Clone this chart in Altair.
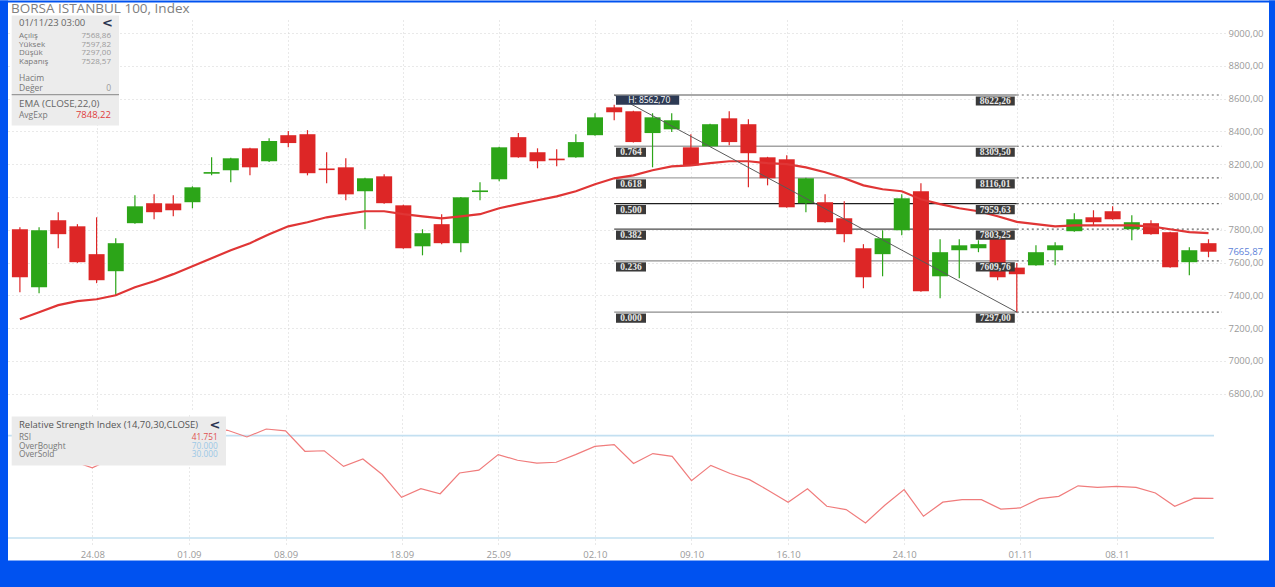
import altair as alt
import pandas as pd

# ---------------- data ----------------
tick_idx = [4, 9, 14, 20, 25, 30, 35, 40, 46, 52, 57]
tick_lbl = ["24.08", "01.09", "08.09", "18.09", "25.09", "02.10", "09.10", "16.10", "24.10", "01.11", "08.11"]

opens = [7803, 7449, 7858, 7821, 7651, 7547, 7840, 7962, 7960, 7968,
         8142, 8163, 8297, 8218, 8377, 8383, 8174, 8181, 8035, 8126,
         7949, 7699, 7834, 7718, 8030, 8108, 8365, 8273, 8234, 8242,
         8377, 8547, 8523, 8390, 8413, 8303, 8309, 8480, 8444, 8242,
         8230, 7962, 7968, 7870, 7687, 7651, 7797, 8035, 7516, 7675,
         7687, 7790, 7568.86, 7583, 7675, 7791, 7876, 7913, 7803, 7840,
         7785, 7602, 7718]
highs = [7815, 7815, 7907, 7834, 7876, 7748, 8010, 8017, 8010, 8065,
         8242, 8240, 8300, 8359, 8402, 8408, 8273, 8236, 8117, 8139,
         7952, 7803, 7895, 8000, 8090, 8306, 8390, 8297, 8291, 8383,
         8511, 8562.70, 8526, 8511, 8511, 8383, 8447, 8523, 8474, 8245,
         8254, 8117, 8017, 7974, 7712, 7797, 8017, 8084, 7742, 7742,
         7736, 7795, 7597.82, 7705, 7724, 7901, 7919, 7943, 7888, 7858,
         7788, 7693, 7742]
lows = [7419, 7413, 7687, 7598, 7474, 7400, 7836, 7864, 7882, 7931,
        8132, 8090, 8132, 8214, 8303, 8132, 8084, 7980, 7803, 7958,
        7684, 7644, 7712, 7663, 7980, 8096, 8240, 8175, 8187, 8240,
        8374, 8468, 8332, 8181, 8396, 8190, 8306, 8316, 8059, 8071,
        7934, 7907, 7843, 7724, 7443, 7516, 7766, 7422, 7382, 7504,
        7663, 7492, 7297.00, 7580, 7583, 7788, 7827, 7861, 7736, 7770,
        7568, 7522, 7632]
closes = [7510, 7797, 7773, 7602, 7492, 7718, 7943, 7907, 7919, 8059,
          8152, 8236, 8181, 8341, 8329, 8145, 8164, 8016, 8114, 7962,
          7687, 7779, 7718, 7998, 8040, 8303, 8242, 8218, 8224, 8335,
          8486, 8517, 8335, 8486, 8468, 8193, 8444, 8335, 8267, 8114,
          7937, 8114, 7846, 7773, 7510, 7748, 7992, 7425, 7663, 7705,
          7712, 7510, 7528.57, 7663, 7705, 7864, 7846, 7864, 7846, 7773,
          7571, 7675, 7665.87]
ema22 = [7254, 7297, 7340, 7364, 7376, 7400, 7449, 7486, 7529, 7577,
         7626, 7675, 7718, 7773, 7821, 7846, 7876, 7895, 7913, 7913,
         7895, 7882, 7870, 7882, 7895, 7931, 7956, 7980, 8004, 8035,
         8078, 8114, 8132, 8163, 8187, 8193, 8206, 8218, 8218, 8206,
         8200, 8181, 8151, 8114, 8071, 8047, 8035, 7986, 7956, 7931,
         7913, 7882, 7848.22, 7834, 7821, 7827, 7827, 7827, 7827, 7821,
         7803, 7785, 7779]
rsi14 = [62, 61, 62, 60, 57.4, 61, 66, 66, 65, 68,
         73, 72.1, 69.5, 72.6, 71.9, 63.9, 64.1, 58.0, 60.9, 54.8,
         45.9, 49.3, 47.3, 55.4, 56.5, 62.6, 60.4, 59.3, 59.6, 62.6,
         65.8, 66.5, 59.1, 63.0, 61.9, 52.4, 58.4, 55.2, 52.8, 48.5,
         44.0, 49.2, 42.4, 41.1, 35.9, 42.8, 48.9, 38.5, 44.0, 45.0,
         45.0, 41.3, 41.751, 45.4, 46.3, 50.4, 49.8, 50.2, 49.8, 47.6,
         42.4, 45.6, 45.5]
fib_ratio = [1.0, 0.764, 0.618, 0.5, 0.382, 0.236, 0.0]
fib_price = [8622.26, 8309.50, 8116.01, 7959.63, 7803.25, 7609.76, 7297.00]
fib_from, fib_to = 31, 52
rsi_levels = [70, 30]
price_ticks = list(range(6800, 9001, 200))
sel = 52  # candle shown in the info box

# ---------------- styles ----------------
W, H1, H2 = 1217, 390, 130
RED, GREEN = "#dd2626", "#2ca518"
BLUE = "#0052f0"
FONT = "Open Sans"


def cfmt(v, d=2):
    return f"{v:.{d}f}".replace(".", ",")


idx = list(range(len(closes)))
candles = pd.DataFrame({"idx": idx, "open": opens, "high": highs, "low": lows, "close": closes})
candles["dir"] = ["up" if c >= o else "down" for o, c in zip(opens, closes)]
ema_df = pd.DataFrame({"idx": idx, "ema": ema22})
rsi_df = pd.DataFrame({"idx": idx, "rsi": rsi14})
fib = pd.DataFrame({"ratio": fib_ratio, "price": fib_price})
fib["idx"] = fib_from
fib["idx_end"] = fib_to
fib["rlabel"] = [f"{r:.3f}" for r in fib_ratio]
fib["plabel"] = [cfmt(p) for p in fib_price]
diag = pd.DataFrame({"idx": [fib_from, fib_to], "price": [fib_price[0], fib_price[-1]]})
last = candles.tail(1).copy()
last["lbl"] = [cfmt(v) for v in last["close"]]
one = pd.DataFrame({"k": [0]})

xscale = alt.Scale(domain=[-0.36, 62.6], nice=False, zero=False)
yscale = alt.Scale(domain=[6700, 9080], nice=False, zero=False)
rscale = alt.Scale(domain=[27.26, 78.08], nice=False, zero=False)

x_axis_main = alt.Axis(values=tick_idx, labels=False, ticks=False, domain=False, grid=True,
                       gridColor="#d2d2d2", gridDash=[1, 3], title=None)
y_axis_main = alt.Axis(orient="right", values=price_ticks,
                       labelExpr="replace(format(datum.value, '.2f'), '.', ',')",
                       ticks=False, domain=False, grid=True, gridColor="#d2d2d2", gridDash=[1, 3],
                       labelColor="#9a9a9a", labelFont=FONT, labelFontSize=9.5, labelPadding=3, title=None)


def X(field="idx"):
    return alt.X(f"{field}:Q", scale=xscale, axis=x_axis_main)


def Y(field):
    return alt.Y(f"{field}:Q", scale=yscale, axis=y_axis_main)


def label(s, x, y, align="left", color="#777", size=8, weight="normal", font=FONT):
    return alt.Chart(one).mark_text(align=align, baseline="middle", color=color, fontSize=size,
                                    fontWeight=weight, font=font).encode(
        x=alt.value(x), y=alt.value(y), text=alt.value(s))


def box(x1, x2, y1, y2, color):
    return alt.Chart(one).mark_rect(color=color).encode(
        x=alt.value(x1), x2=alt.value(x2), y=alt.value(y1), y2=alt.value(y2))


def hline(x1, x2, y, color, w=1):
    return alt.Chart(one).mark_rule(color=color, strokeWidth=w).encode(
        x=alt.value(x1), x2=alt.value(x2), y=alt.value(y))


color_enc = alt.Color("dir:N", scale=alt.Scale(domain=["up", "down"], range=[GREEN, RED]), legend=None)

wicks = alt.Chart(candles).mark_rule(strokeWidth=1.2).encode(x=X(), y=Y("low"), y2="high:Q", color=color_enc)
bodies = alt.Chart(candles).mark_bar(size=16).encode(x=X(), y=Y("open"), y2="close:Q", color=color_enc)
ema_line = alt.Chart(ema_df).mark_line(color="#e03535", strokeWidth=2.2).encode(x=X(), y=Y("ema"))

fib_solid = alt.Chart(fib).mark_rule(strokeWidth=1.3).encode(
    x=X(), x2="idx_end:Q", y=Y("price"),
    stroke=alt.Stroke("rlabel:N", scale=alt.Scale(
        domain=["1.000", "0.764", "0.618", "0.500", "0.382", "0.236", "0.000"],
        range=["#8c8c8c", "#a3a3a3", "#a3a3a3", "#1e1e1e", "#4a4a4a", "#8c8c8c", "#8c8c8c"]), legend=None))
fib_dot = alt.Chart(fib).mark_rule(strokeDash=[2, 3], strokeWidth=1.2, color="#666").encode(
    x=X("idx_end"), x2=alt.value(W - 3), y=Y("price"))
diag_line = alt.Chart(diag).mark_line(color="#5a5a5a", strokeWidth=1).encode(x=X(), y=Y("price"))

LBOX = "M1.8,1.4L31.8,1.4L31.8,10.6L1.8,10.6Z"
RBOX = "M-41,1.4L-2,1.4L-2,10.6L-41,10.6Z"
HBOX = "M1.8,0.4L65,0.4L65,9.8L1.8,9.8Z"
fib_lo = fib[fib["ratio"] < 1]
fib_hi = fib[fib["ratio"] == 1].copy()
fib_hi["hl"] = "H: " + cfmt(highs[fib_from])

lboxes = alt.Chart(fib_lo).mark_point(shape=LBOX, size=4, filled=True, color="#3a3a3a", opacity=1,
                                      strokeWidth=0).encode(x=X(), y=Y("price"))
ltexts = alt.Chart(fib_lo).mark_text(align="center", baseline="middle", dx=16.8, dy=6.2,
                                     font="Liberation Serif", fontWeight="bold", fontSize=9.5,
                                     color="#e8e8e8").encode(x=X(), y=Y("price"), text="rlabel:N")
rboxes = alt.Chart(fib).mark_point(shape=RBOX, size=4, filled=True, color="#3a3a3a", opacity=1,
                                   strokeWidth=0).encode(x=X("idx_end"), y=Y("price"))
rtexts = alt.Chart(fib).mark_text(align="center", baseline="middle", dx=-21.5, dy=6.2,
                                  font="Liberation Serif", fontWeight="bold", fontSize=9.5,
                                  color="#e8e8e8").encode(x=X("idx_end"), y=Y("price"), text="plabel:N")
hbox = alt.Chart(fib_hi).mark_point(shape=HBOX, size=4, filled=True, color="#2d3a54", opacity=1,
                                    strokeWidth=0).encode(x=X(), y=Y("price"))
htext = alt.Chart(fib_hi).mark_text(align="center", baseline="middle", dx=35, dy=5.3, font=FONT,
                                    fontSize=8.5, color="white").encode(x=X(), y=Y("price"), text="hl:N")
last_lbl = alt.Chart(last).mark_text(align="left", baseline="middle", font=FONT, fontSize=9.5,
                                     color="#5c7fd9").encode(x=alt.value(W + 3), y=Y("close"), text="lbl:N")

# info box (main)
info = [
    label("BORSA ISTANBUL 100, Index", 3, -10.8, color="#808080", size=13.5),
    box(3.7, 111, -4.6, 105.4, "#ececec"),
    label("01/11/23 03:00", 11, 3.3, color="#666", size=9.5),
    label("<", 99.5, 3.4, align="center", color="#2a3550", size=13, weight="bold", font="DejaVu Sans"),
]
for name, val, yy in [("Açılış", opens[sel], 16.1), ("Yüksek", highs[sel], 24.6),
                      ("Düşük", lows[sel], 33.1), ("Kapanış", closes[sel], 42.1)]:
    info.append(label(name, 11, yy, color="#777"))
    info.append(label(cfmt(val), 103, yy, align="right", color="#9a9a9a"))
info += [
    label("Hacim", 11, 57.7, color="#777", size=8.5),
    label("Değer", 11, 67.7, color="#777", size=8.5),
    label("0", 103, 67.7, align="right", color="#9a9a9a", size=8.5),
    hline(3.7, 111, 74.7, "#9a9a9a", 1.2),
    label("EMA (CLOSE,22,0)", 11, 83.7, color="#666", size=9.8),
    label("AvgExp", 11, 94.7, color="#777", size=8.5),
    label(cfmt(ema22[sel]), 103, 94.7, align="right", color="#e03c3c", size=9.5),
]

frame = [
    box(-8, 0, -19.6, 567.4, BLUE),
    box(1261, 1267, -19.6, 567.4, BLUE),
    box(-8, 1267, -19.6, -17.6, BLUE),
    box(-8, 1267, 540.4, 567.4, BLUE),
]

main = alt.layer(
    fib_solid, fib_dot, wicks, bodies, ema_line, diag_line,
    lboxes, ltexts, rboxes, rtexts, hbox, htext, last_lbl,
    *info, *frame
).properties(width=W, height=H1)

# ---------------- RSI panel ----------------
label_expr = "".join(f"datum.value == {i} ? '{l}' : " for i, l in zip(tick_idx, tick_lbl)) + "''"
x_rsi = alt.X("idx:Q", scale=xscale, axis=alt.Axis(
    values=tick_idx, labelExpr=label_expr, grid=True, gridColor="#d2d2d2", gridDash=[1, 3],
    ticks=False, domain=False, labelColor="#9a9a9a", labelFont=FONT, labelFontSize=9.5,
    labelPadding=4, title=None))

lvl_rules = alt.Chart(pd.DataFrame({"lvl": rsi_levels})).mark_rule(color="#c3e0f1", strokeWidth=1.6).encode(
    y=alt.Y("lvl:Q", scale=rscale, axis=None), x=alt.value(0), x2=alt.value(1206))
rsi_line = alt.Chart(rsi_df).mark_line(color="#f07c7c", strokeWidth=1.2).encode(
    x=x_rsi, y=alt.Y("rsi:Q", scale=rscale, axis=None))

rsi_info = [
    box(3.7, 218, 1.4, 50.4, "#ebebeb"),
    label("Relative Strength Index (14,70,30,CLOSE)", 11, 9.7, color="#555", size=9.5),
    label("<", 207, 9.6, align="center", color="#2a3550", size=13, weight="bold", font="DejaVu Sans"),
    label("RSI", 11, 23.1, color="#777", size=8.3),
    label("OverBought", 11, 31.6, color="#777", size=8.3),
    label("OverSold", 11, 40.4, color="#777", size=8.3),
    label(f"{rsi14[sel]:.3f}", 209.7, 23.1, align="right", color="#e05050", size=8.3),
    label(f"{rsi_levels[0]:.3f}", 209.7, 31.6, align="right", color="#9cc8e6", size=8.3),
    label(f"{rsi_levels[1]:.3f}", 209.7, 40.4, align="right", color="#9cc8e6", size=8.3),
]

rsi_chart = alt.layer(lvl_rules, rsi_line, *rsi_info).properties(width=W, height=H2)

chart = alt.vconcat(main, rsi_chart, spacing=5, bounds="flush").properties(
    padding=0, background="white"
).configure_view(strokeWidth=0)

chart.save("out.html", embed_options={"renderer": "svg", "actions": False})
